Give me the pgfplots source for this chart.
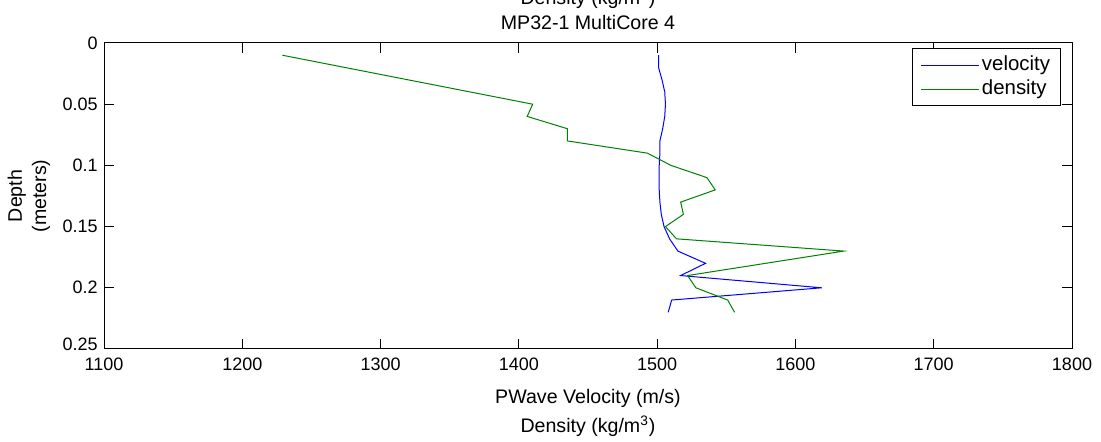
\documentclass[border=0pt]{standalone}
\usepackage{fontspec}
\setmainfont{Liberation Sans}
\usepackage{pgfplots}
\pgfplotsset{compat=1.18}
\newcommand{\lblfont}{\fontsize{9.8}{11.5}\selectfont}
\newcommand{\legfont}{\fontsize{10.2}{12}\selectfont}
\definecolor{mblue}{rgb}{0,0,1}
\definecolor{mgreen}{rgb}{0,0.5,0}
\begin{document}
\fontsize{9}{11}\selectfont
\begin{tikzpicture}
\begin{axis}[
  name=ax,
  width=484pt, height=153pt, scale only axis,
  xmin=1100, xmax=1800, ymin=0, ymax=0.25,
  y dir=reverse,
  xtick={1100,1200,1300,1400,1500,1600,1700,1800},
  xticklabels={1100,1200,1300,1400,1500,1600,1700,1800},
  ytick={0,0.05,0.1,0.15,0.2,0.25},
  yticklabels={0,0.05,0.1,0.15,0.2,\raisebox{5.25pt}{0.25}},
  tick align=inside,
  major tick length=5pt,
  tick style={black, line width=0.5pt},
  axis line style={black, line width=0.5pt},
  xticklabel style={anchor=base, inner sep=0pt, yshift=-11pt},
  yticklabel style={anchor=east, inner sep=0pt, xshift=-3pt},
  legend cell align=left,
  legend style={at={(1,1)}, anchor=north east, xshift=-5.5pt, yshift=-2.6pt,
    draw=black, line width=0.5pt, inner xsep=4.25pt, inner ysep=2.2pt,
    nodes={inner ysep=1.2pt, inner xsep=1pt, text height=7.4pt, text depth=2.2pt}},
]
\addplot[color=mblue, line width=0.5pt,
  legend image code/.code={\draw[draw=mblue, line width=0.5pt] (0pt,0pt) -- (29pt,0pt);}] coordinates {
(1501,0.01) (1501,0.02) (1503.5,0.03) (1505.5,0.04) (1506,0.05) (1505.5,0.06)
(1504,0.07) (1502,0.08) (1502,0.09) (1501.5,0.10) (1501.5,0.11) (1501.5,0.12)
(1502,0.13) (1503,0.14) (1505,0.15) (1509,0.16) (1515,0.17) (1535,0.18)
(1517,0.19) (1619,0.20) (1510.5,0.21) (1508,0.22)
};
\addlegendentry{\legfont velocity}
\addplot[color=mgreen, line width=0.5pt,
  legend image code/.code={\draw[draw=mgreen, line width=0.5pt] (0pt,0pt) -- (29pt,0pt);}] coordinates {
(1229,0.01) (1410,0.05) (1406,0.06) (1435,0.07) (1435,0.08) (1493,0.09)
(1510,0.10) (1536,0.11) (1542,0.12) (1517,0.13) (1519,0.14) (1506,0.15)
(1514,0.16) (1635,0.17) (1522,0.19) (1528,0.20) (1551,0.21) (1556,0.22)
};
\addlegendentry{\legfont density}
\end{axis}
\node[anchor=base, font=\lblfont] at ([yshift=6.85pt]ax.north) {MP32-1 MultiCore 4};
\node[anchor=base, font=\lblfont] at ([yshift=19pt]ax.north) {Density (kg/m\textsuperscript{3})};
\node[anchor=base, font=\lblfont] at ([yshift=-27.5pt]ax.south) {PWave Velocity (m/s)};
\node[anchor=base, font=\lblfont] at ([yshift=-41.8pt]ax.south) {Density (kg/m\textsuperscript{3})};
\node[rotate=90, anchor=base, font=\lblfont] at ([xshift=-41pt]ax.west) {Depth};
\node[rotate=90, anchor=base, font=\lblfont] at ([xshift=-29pt]ax.west) {(meters)};
\pgfresetboundingbox
\path[use as bounding box] ([xshift=-52pt, yshift=-46.5pt]ax.south west) rectangle ([xshift=14.5pt, yshift=21.5pt]ax.north east);
\end{tikzpicture}
\end{document}
